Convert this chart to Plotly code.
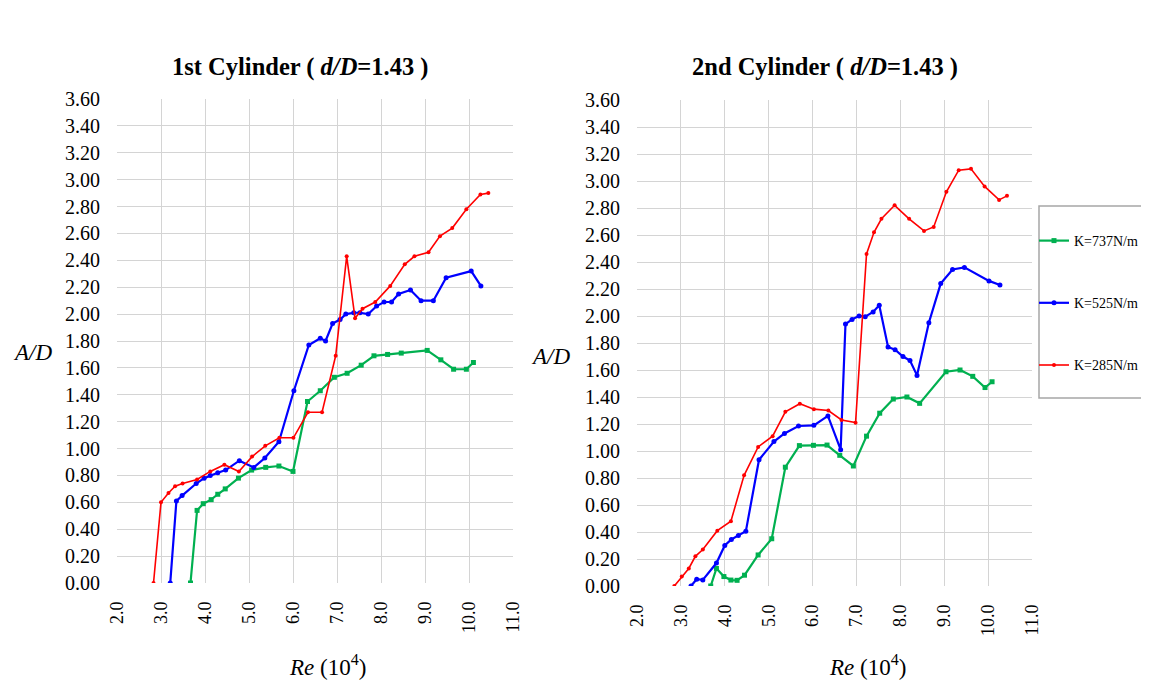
import plotly.graph_objects as go

# ---------------- data ----------------
series_names = ["K=737N/m", "K=525N/m", "K=285N/m"]
series_colors = ["#00B050", "#0000FF", "#FF0000"]

# 1st cylinder
c1_re_737 = [3.67, 3.82, 3.96, 4.14, 4.29, 4.46, 4.76, 5.06, 5.38, 5.68, 6.00, 6.33, 6.62, 6.94, 7.23, 7.55, 7.84, 8.15, 8.46, 9.05, 9.36, 9.65, 9.94, 10.10]
c1_ad_737 = [0.00, 0.54, 0.59, 0.62, 0.66, 0.70, 0.78, 0.84, 0.86, 0.87, 0.83, 1.35, 1.43, 1.53, 1.56, 1.62, 1.69, 1.70, 1.71, 1.73, 1.66, 1.59, 1.59, 1.64]

c1_re_525 = [3.21, 3.35, 3.48, 3.80, 3.98, 4.12, 4.29, 4.47, 4.78, 5.11, 5.36, 5.68, 6.02, 6.36, 6.62, 6.74, 6.90, 7.07, 7.20, 7.38, 7.52, 7.71, 7.90, 8.07, 8.24, 8.40, 8.67, 8.91, 9.19, 9.48, 10.05, 10.27]
c1_ad_525 = [0.00, 0.61, 0.65, 0.74, 0.78, 0.80, 0.82, 0.84, 0.91, 0.86, 0.93, 1.05, 1.43, 1.77, 1.82, 1.80, 1.93, 1.96, 2.00, 2.01, 2.01, 2.00, 2.06, 2.09, 2.09, 2.15, 2.18, 2.10, 2.10, 2.27, 2.32, 2.21]

c1_re_285 = [2.83, 3.00, 3.17, 3.32, 3.49, 3.82, 4.12, 4.44, 4.77, 5.07, 5.37, 5.69, 6.01, 6.34, 6.66, 6.97, 7.22, 7.41, 7.58, 7.87, 8.21, 8.54, 8.76, 9.08, 9.34, 9.62, 9.94, 10.26, 10.44]
c1_ad_285 = [0.00, 0.60, 0.67, 0.72, 0.74, 0.77, 0.83, 0.88, 0.83, 0.94, 1.02, 1.08, 1.08, 1.27, 1.27, 1.69, 2.43, 1.97, 2.04, 2.09, 2.21, 2.37, 2.43, 2.46, 2.58, 2.64, 2.78, 2.89, 2.90]

# 2nd cylinder
c2_re_737 = [3.68, 3.81, 3.98, 4.14, 4.28, 4.45, 4.76, 5.07, 5.38, 5.70, 6.02, 6.33, 6.62, 6.93, 7.23, 7.53, 7.84, 8.15, 8.44, 9.04, 9.36, 9.65, 9.93, 10.09]
c2_ad_737 = [0.00, 0.13, 0.07, 0.044, 0.042, 0.08, 0.23, 0.35, 0.88, 1.04, 1.042, 1.044, 0.968, 0.889, 1.11, 1.28, 1.385, 1.40, 1.353, 1.587, 1.60, 1.553, 1.47, 1.513]

c2_re_525 = [3.23, 3.36, 3.50, 3.81, 4.00, 4.15, 4.31, 4.48, 4.78, 5.12, 5.36, 5.68, 6.03, 6.35, 6.64, 6.75, 6.90, 7.06, 7.20, 7.38, 7.52, 7.72, 7.88, 8.06, 8.22, 8.38, 8.65, 8.92, 9.19, 9.46, 10.02, 10.27]
c2_ad_525 = [0.00, 0.05, 0.045, 0.17, 0.30, 0.345, 0.375, 0.405, 0.935, 1.07, 1.13, 1.185, 1.19, 1.26, 1.01, 1.94, 1.975, 2.00, 1.995, 2.03, 2.08, 1.77, 1.75, 1.70, 1.67, 1.56, 1.95, 2.24, 2.345, 2.36, 2.26, 2.23]

c2_re_285 = [2.85, 3.02, 3.18, 3.33, 3.50, 3.83, 4.14, 4.44, 4.76, 5.09, 5.38, 5.71, 6.03, 6.36, 6.66, 6.98, 7.23, 7.40, 7.57, 7.87, 8.20, 8.54, 8.76, 9.05, 9.33, 9.61, 9.92, 10.25, 10.43]
c2_ad_285 = [0.00, 0.07, 0.13, 0.22, 0.27, 0.41, 0.48, 0.82, 1.03, 1.11, 1.29, 1.35, 1.31, 1.30, 1.23, 1.21, 2.46, 2.62, 2.72, 2.82, 2.72, 2.63, 2.66, 2.92, 3.08, 3.09, 2.96, 2.86, 2.89]

x_tick_vals = [2.0, 3.0, 4.0, 5.0, 6.0, 7.0, 8.0, 9.0, 10.0, 11.0]
y_tick_vals = [round(0.2 * i, 2) for i in range(19)]

titles = ["<b>1st Cylinder ( <i>d/D</i>=1.43 )</b>", "<b>2nd Cylinder ( <i>d/D</i>=1.43 )</b>"]

# ---------------- figure ----------------
OFF = 8                      # page body margin
W, H = 1149 - OFF, 681 - OFF
FONT = "Liberation Serif, Times New Roman, serif"

fig = go.Figure()

markers = ["square", "circle", "circle"]
msizes = [5, 5, 4]
lwidths = [2.2, 2.2, 1.6]

data_sets = [
    [(c1_re_737, c1_ad_737), (c1_re_525, c1_ad_525), (c1_re_285, c1_ad_285)],
    [(c2_re_737, c2_ad_737), (c2_re_525, c2_ad_525), (c2_re_285, c2_ad_285)],
]

for p, sets in enumerate(data_sets):
    for i, (xs, ys) in enumerate(sets):
        fig.add_trace(go.Scatter(
            x=xs, y=ys, mode="lines+markers", name=series_names[i],
            line=dict(color=series_colors[i], width=lwidths[i]),
            marker=dict(color=series_colors[i], size=msizes[i], symbol=markers[i]),
            xaxis="x" if p == 0 else "x2", yaxis="y" if p == 0 else "y2",
            showlegend=(p == 1), legendgroup=series_names[i],
        ))

def px_x(v):
    return (v - OFF) / W

def px_y(v):
    return 1 - (v - OFF) / H

grid = "#d4d4d4"
axis_common = dict(showgrid=True, gridcolor=grid, gridwidth=1.4, zeroline=False,
                   automargin=False, ticks="", showline=False)

xcommon = dict(axis_common, range=[2, 11], tickvals=x_tick_vals, tickformat=".1f",
               tickangle=-90, tickfont=dict(family=FONT, size=18, color="#000"),
               ticklabelstandoff=14)
ycommon = dict(axis_common, range=[0, 3.6], tickvals=y_tick_vals, tickformat=".2f",
               tickfont=dict(family=FONT, size=20, color="#000"), ticklabelstandoff=16)

fig.update_layout(
    width=W, height=H, template="none",
    paper_bgcolor="white", plot_bgcolor="white",
    margin=dict(l=0, r=0, t=0, b=0),
    font=dict(family=FONT, color="#000"),
    xaxis=dict(xcommon, domain=[px_x(117), px_x(513)], anchor="y"),
    yaxis=dict(ycommon, domain=[px_y(583), px_y(99)], anchor="x"),
    xaxis2=dict(xcommon, domain=[px_x(637), px_x(1032)], anchor="y2"),
    yaxis2=dict(ycommon, domain=[px_y(586), px_y(100)], anchor="x2"),
    legend=dict(x=px_x(1034), xanchor="left", y=px_y(225), yanchor="top",
                bgcolor="rgba(0,0,0,0)", borderwidth=0,
                font=dict(family=FONT, size=14, color="#000"),
                tracegroupgap=41, traceorder="grouped"),
    shapes=[dict(type="rect", xref="paper", yref="paper",
                 x0=px_x(1039), x1=px_x(1148), y0=px_y(398), y1=px_y(206),
                 line=dict(color="#a6a6a6", width=1.5), fillcolor="rgba(0,0,0,0)",
                 layer="below")],
)

ann = []
for t, cx in zip(titles, [300, 825]):
    ann.append(dict(text=t, x=px_x(cx), y=px_y(67), xref="paper", yref="paper",
                    showarrow=False, xanchor="center", yanchor="middle",
                    font=dict(family=FONT, size=24.5, color="#000")))
for cx, cy in [(32, 353), (550, 356)]:
    ann.append(dict(text="<i>A/D</i>", x=px_x(cx), y=px_y(cy), xref="paper", yref="paper",
                    showarrow=False, xanchor="center", yanchor="middle",
                    font=dict(family=FONT, size=23, color="#000")))
for cx in [327, 867]:
    ann.append(dict(text="<i>Re</i> (10<sup>4</sup>)", x=px_x(cx), y=px_y(665), xref="paper",
                    yref="paper", showarrow=False, xanchor="center", yanchor="middle",
                    font=dict(family=FONT, size=23, color="#000")))
fig.update_layout(annotations=ann)

fig.write_html("out.html")
